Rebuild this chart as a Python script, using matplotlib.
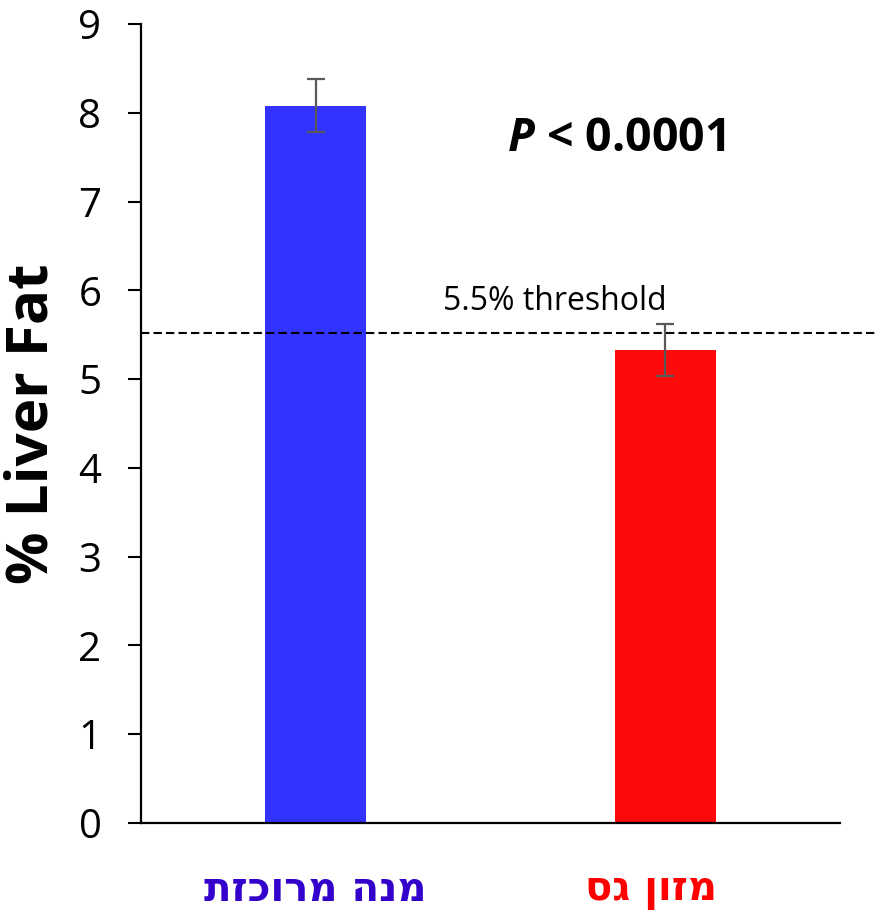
import matplotlib
matplotlib.use("Agg")
import matplotlib.pyplot as plt
from matplotlib.transforms import blended_transform_factory

# Data
categories = ["מנה מרוכזת", "מזון גס"]
values = [8.08, 5.33]
errors = [0.30, 0.29]
bar_colors = ["#3333FF", "#FF0A0A"]
label_colors = ["#3300CC", "#FF0000"]
threshold = 5.52
threshold_label = "5.5% threshold"
yticks = list(range(0, 10))

plt.rcParams['font.family'] = ['Open Sans', 'DejaVu Sans']
plt.rcParams['mathtext.fontset'] = 'custom'
plt.rcParams['mathtext.rm'] = 'Open Sans'
plt.rcParams['mathtext.it'] = 'Open Sans:italic'
plt.rcParams['mathtext.bf'] = 'Open Sans:bold'
plt.rcParams['mathtext.bfit'] = 'Open Sans:italic:bold'

fig = plt.figure(figsize=(8.79, 9.14), dpi=100)
ax = fig.add_axes([0.1604, 0.0996, 0.7952, 0.874])

x = list(range(len(categories)))
ax.bar(x, values, width=0.29, color=bar_colors, zorder=2)
ax.errorbar(x, values, yerr=errors, fmt='none', ecolor='#595959',
            elinewidth=1.6, capsize=6.5, capthick=1.6, zorder=3)

ax.set_xlim(-0.5, 1.5)
ax.set_ylim(0, 9)
ax.set_yticks(yticks)
ax.set_yticklabels([str(t) for t in yticks], fontsize=29)

ax.set_xticks(x)
ax.set_xticklabels([])
ax.tick_params(axis='x', length=0)
ax.tick_params(axis='y', length=9.5, width=1.5, pad=19)

label_shift_px = [0, -14]
for xi, lab, col, dx in zip(x, categories, label_colors, label_shift_px):
    ax.annotate(lab[::-1], xy=(xi, -0.76), xycoords='data',
                xytext=(dx * 0.72, 0), textcoords='offset points',
                ha='center', va='center', fontsize=29, fontweight='bold',
                color=col, family=['DejaVu Sans'], annotation_clip=False)

for s in ['top', 'right']:
    ax.spines[s].set_visible(False)
for s in ['left', 'bottom']:
    ax.spines[s].set_linewidth(1.6)

trans = blended_transform_factory(ax.transAxes, ax.transData)
ax.plot([0, 1.0515], [threshold, threshold], transform=trans, color='black',
        linestyle=(0, (4, 2)), linewidth=1.5, clip_on=False, zorder=4)
ax.text(0.592, threshold + 0.17, threshold_label, transform=trans,
        ha='center', va='bottom', fontsize=23)

ax.text(0.68, 7.71, r"$\bfit{P}$ < 0.0001", transform=trans, ha='center',
        va='center', fontsize=33.5, fontweight='bold')

ax.set_ylabel("% Liver Fat", fontsize=42, fontweight='bold', labelpad=12)

fig.savefig("out.png", dpi=100)
